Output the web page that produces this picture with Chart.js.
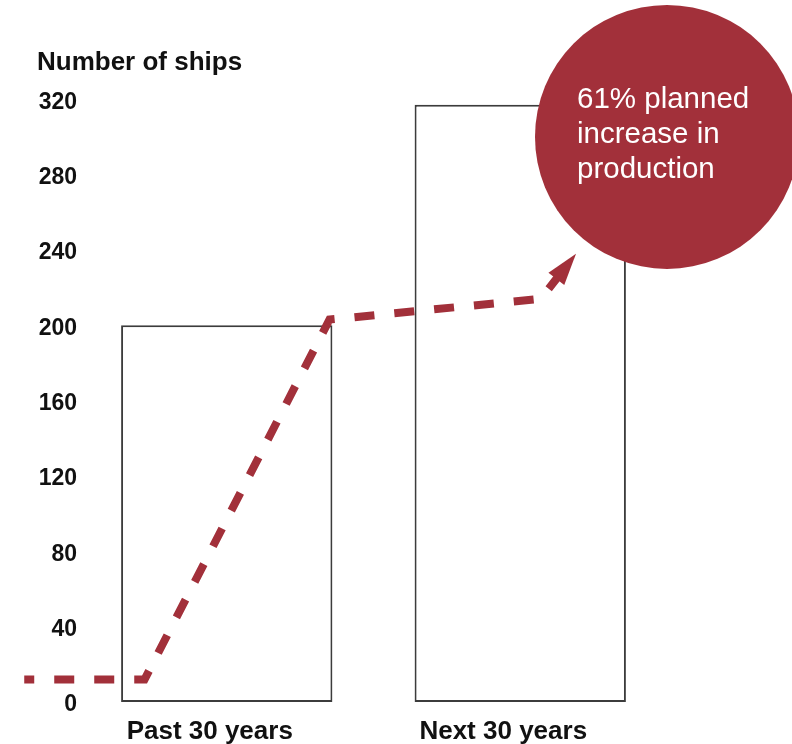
<!DOCTYPE html>
<html>
<head>
<meta charset="utf-8">
<script src="https://cdn.jsdelivr.net/npm/chart.js@4.4.0/dist/chart.umd.min.js"></script>
<style>
  html, body { margin: 0; padding: 0; background: #fff; }
  #wrap { width: 792px; height: 744px; }
</style>
</head>
<body>
<div id="wrap"><canvas id="ships" width="792" height="744"></canvas></div>
<script>
// ==== Data ====
const categories = ['Past 30 years', 'Next 30 years'];
const shipCounts = [200, 317];
const yTickValues = [0, 40, 80, 120, 160, 200, 240, 280, 320];
// dashed trend line (x in category units, -0.5 .. 1.5 spans the plot)
const trendX = [-0.69, -0.28, 0.35, 1.07, 1.19];
const trendY = [12, 12, 203, 214, 238];
// red callout circle
const calloutX = [1.5];
const calloutY = [300];
const calloutText = ['61% planned', 'increase in', 'production'];

const RED = '#a2303a';
const FONT = "'Liberation Sans', Arial, sans-serif";

// arrow tip geometry from the last two line points
function arrowGeom(chart) {
  const meta = chart.getDatasetMeta(1);
  const pts = meta.data;
  const a = pts[pts.length - 2], b = pts[pts.length - 1];
  const ang = Math.atan2(b.y - a.y, b.x - a.x);
  return { x: b.x, y: b.y, ang: ang };
}

const arrowPlugin = {
  id: 'arrowPlugin',
  beforeDatasetDraw(chart, args) {
    if (args.index !== 1) return;
    const g = arrowGeom(chart);
    const ctx = chart.ctx;
    ctx.save();
    ctx.beginPath();
    ctx.rect(-100, -100, chart.width + 200, chart.height + 200);
    // cut away the part of the line that sits under the arrow head
    ctx.translate(g.x, g.y);
    ctx.rotate(g.ang);
    ctx.moveTo(-26, -20); ctx.lineTo(20, -20); ctx.lineTo(20, 20); ctx.lineTo(-26, 20); ctx.closePath();
    ctx.setTransform(1, 0, 0, 1, 0, 0);
    ctx.clip('evenodd');
  },
  afterDatasetDraw(chart, args) {
    if (args.index !== 1) return;
    const ctx = chart.ctx;
    ctx.restore();
    const g = arrowGeom(chart);
    ctx.save();
    ctx.translate(g.x, g.y);
    ctx.rotate(g.ang);
    ctx.beginPath();
    ctx.moveTo(0, 0);
    ctx.lineTo(-32, -10);
    ctx.lineTo(-32, 10);
    ctx.closePath();
    ctx.fillStyle = RED;
    ctx.fill();
    ctx.restore();
  }
};

const calloutPlugin = {
  id: 'calloutPlugin',
  afterDatasetsDraw(chart) {
    const el = chart.getDatasetMeta(2).data[0];
    if (!el) return;
    const ctx = chart.ctx;
    ctx.save();
    ctx.fillStyle = '#fff';
    ctx.font = '29.5px ' + FONT;
    ctx.textAlign = 'left';
    ctx.textBaseline = 'alphabetic';
    calloutText.forEach((t, i) => {
      ctx.fillText(t, el.x - 90, el.y - 29 + i * 35);
    });
    ctx.restore();
  }
};

new Chart(document.getElementById('ships'), {
  type: 'bar',
  data: {
    labels: categories,
    datasets: [
      {
        type: 'bar',
        data: shipCounts,
        backgroundColor: '#fff',
        borderColor: '#3c3c3c',
        borderWidth: 2,
        borderSkipped: false,
        grouped: false,
        order: 3
      },
      {
        type: 'line',
        xAxisID: 'x2',
        data: trendX.map((x, i) => ({ x: x, y: trendY[i] })),
        borderColor: RED,
        borderWidth: 8,
        borderDash: [20, 20],
        borderDashOffset: 10,
        borderCapStyle: 'butt',
        borderJoinStyle: 'miter',
        pointRadius: 0,
        fill: false,
        tension: 0,
        clip: false,
        order: 2
      },
      {
        type: 'bubble',
        xAxisID: 'x2',
        data: calloutX.map((x, i) => ({ x: x, y: calloutY[i] })),
        backgroundColor: RED,
        borderWidth: 0,
        radius: 132,
        hoverRadius: 0,
        clip: false,
        order: 1
      }
    ]
  },
  options: {
    responsive: false,
    animation: false,
    events: [],
    layout: { autoPadding: false, padding: { left: 37, right: 125, top: 0, bottom: 0 } },
    plugins: {
      legend: { display: false },
      tooltip: { enabled: false },
      title: {
        display: true,
        text: 'Number of ships',
        align: 'start',
        color: '#111',
        font: { family: FONT, size: 26, weight: 'bold' },
        padding: { top: 47, bottom: 21 }
      }
    },
    scales: {
      x: {
        type: 'category',
        grid: { display: false, drawTicks: false },
        border: { display: false },
        afterFit: (axis) => { axis.height = 42; },
        ticks: {
          color: '#111',
          font: { family: FONT, size: 26, weight: 'bold' },
          padding: 14,
          labelOffset: -17,
          maxRotation: 0
        }
      },
      x2: {
        type: 'linear',
        display: false,
        offset: false,
        min: -0.5,
        max: 1.5
      },
      y: {
        min: 0,
        max: 320,
        grid: { display: false, drawTicks: false },
        border: { display: false },
        afterBuildTicks: (axis) => { axis.ticks = yTickValues.map(v => ({ value: v })); },
        afterFit: (axis) => { axis.width = 43; },
        ticks: {
          color: '#111',
          font: { family: FONT, size: 23, weight: 'bold' },
          padding: 3,
          labelOffset: 3
        }
      }
    }
  },
  plugins: [arrowPlugin, calloutPlugin]
});
</script>
</body>
</html>
